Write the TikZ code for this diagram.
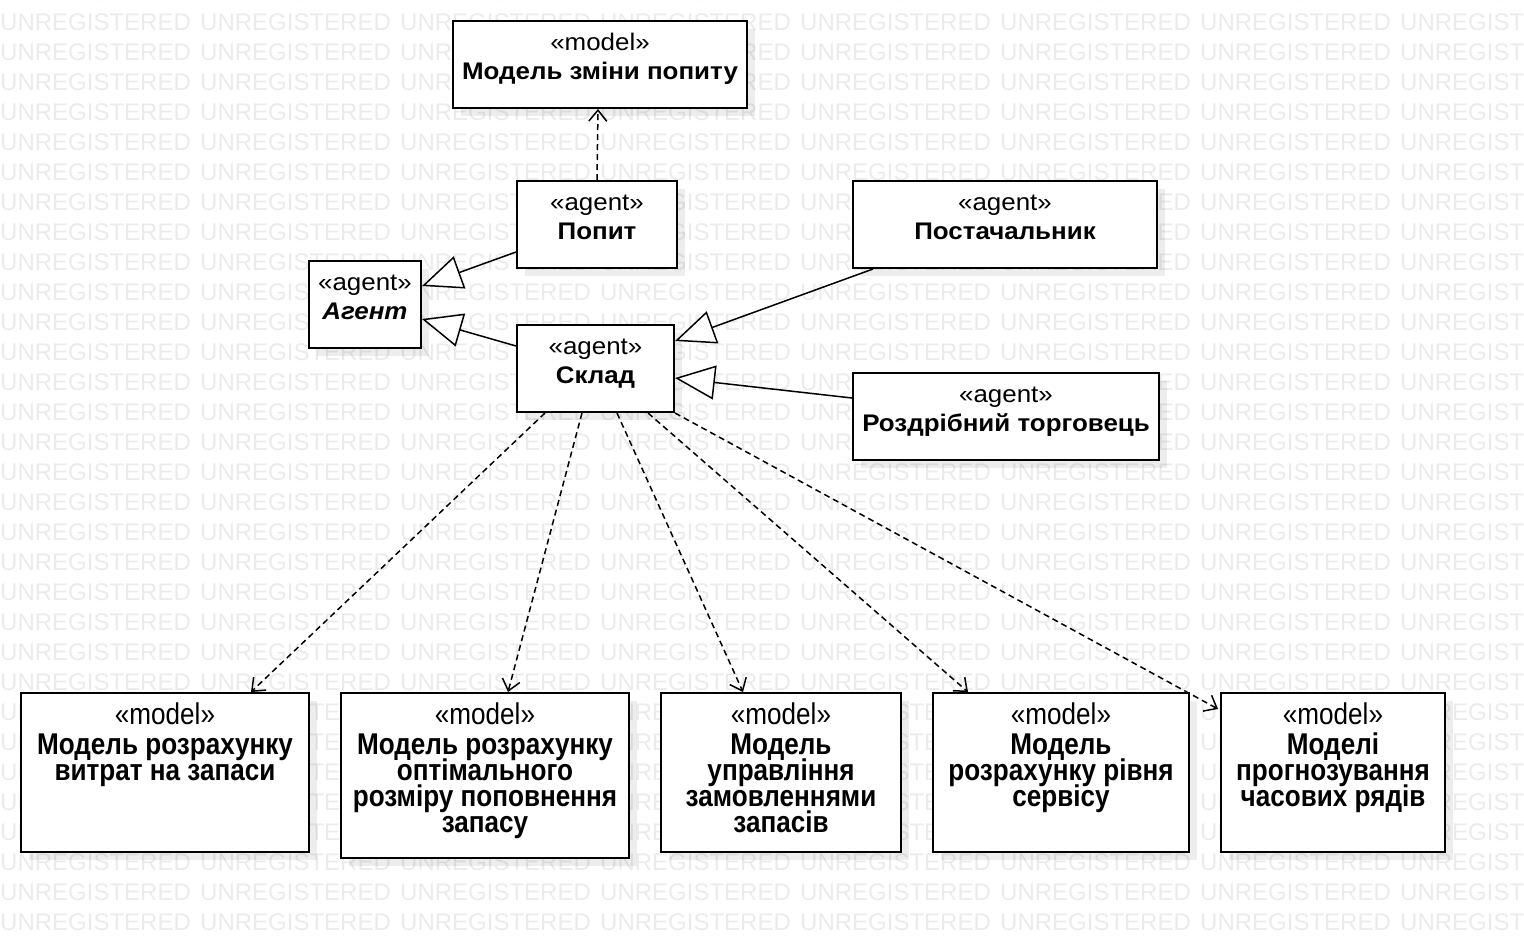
\documentclass[tikz,border=0pt]{standalone}
\usepackage{fontspec}
\setmainfont{Liberation Sans}
\newfontfamily\widefont[FakeStretch=1.08]{Liberation Sans}
\newfontfamily\tallfont[FakeStretch=0.87]{Liberation Sans}
\usetikzlibrary{arrows.meta,shadows}
\definecolor{wm}{HTML}{EBEBEB}
\tikzset{
  box/.style={draw, line width=2pt, fill=white, inner sep=0pt, anchor=north west,
    general shadow={shadow xshift=8pt, shadow yshift=-8pt, fill=black, opacity=0.07}},
  lbl/.style={inner sep=0pt, anchor=center, text height=17.3pt, text depth=0pt,
    font=\widefont\fontsize{24}{30}\selectfont},
  nlbl/.style={inner sep=0pt, anchor=center, text height=21.6pt, text depth=0pt,
    font=\tallfont\fontsize{30}{26}\selectfont},
  gen/.style={line width=1.5pt, -{Triangle[open, length=40pt, width=34pt, fill=white, line width=1.5pt]}},
  dep/.style={line width=1.5pt, dash pattern=on 6pt off 4pt, -{Straight Barb[length=11pt, width=18pt, line width=1.5pt]}},
  wmtext/.style={inner sep=0pt, anchor=west, text=wm, font=\fontsize{24}{24}\selectfont}
}
\begin{document}
\begin{tikzpicture}[x=1pt, y=-1pt]
\useasboundingbox (0,0) rectangle (1524,938);
\begin{scope}
\clip (0,0) rectangle (1524,938);
\foreach \r in {-1,...,30} {
  \foreach \c in {0,...,7} {
    \node[wmtext] at (\c*200, 22+\r*30) {UNREGISTERED};
  }
}
\end{scope}

% boxes
\node[box, minimum width=294pt, minimum height=87pt] (demandmodel) at (452,20) {};
\node[box, minimum width=160pt, minimum height=87pt] (popyt) at (516,180) {};
\node[box, minimum width=304pt, minimum height=87pt] (supplier) at (852,180) {};
\node[box, minimum width=112pt, minimum height=87pt] (agent) at (308,260) {};
\node[box, minimum width=157pt, minimum height=87pt] (sklad) at (516,324) {};
\node[box, minimum width=306pt, minimum height=87pt] (retailer) at (852,372) {};
\node[box, minimum width=288pt, minimum height=159pt] (m1) at (20,692) {};
\node[box, minimum width=288pt, minimum height=165pt] (m2) at (340,692) {};
\node[box, minimum width=240pt, minimum height=159pt] (m3) at (660,692) {};
\node[box, minimum width=256pt, minimum height=159pt] (m4) at (932,692) {};
\node[box, minimum width=224pt, minimum height=159pt] (m5) at (1220,692) {};

% labels (top boxes)
\node[lbl] at ([yshift=-22pt]demandmodel.north) {«model»};
\node[lbl] at ([yshift=-51pt]demandmodel.north) {\bfseries Модель зміни попиту};
\node[lbl] at ([yshift=-22pt]popyt.north) {«agent»};
\node[lbl] at ([yshift=-51pt]popyt.north) {\bfseries Попит};
\node[lbl] at ([yshift=-22pt]supplier.north) {«agent»};
\node[lbl] at ([yshift=-51pt]supplier.north) {\bfseries Постачальник};
\node[lbl] at ([yshift=-22pt]agent.north) {«agent»};
\node[lbl] at ([yshift=-51pt]agent.north) {\bfseries\itshape Агент};
\node[lbl] at ([yshift=-22pt]sklad.north) {«agent»};
\node[lbl] at ([yshift=-51pt]sklad.north) {\bfseries Склад};
\node[lbl] at ([yshift=-22pt]retailer.north) {«agent»};
\node[lbl] at ([yshift=-51pt]retailer.north) {\bfseries Роздрібний торговець};

% labels (model boxes)
\node[nlbl] at ([yshift=-22pt]m1.north) {«model»};
\node[nlbl] at ([yshift=-52pt]m1.north) {\bfseries Модель розрахунку};
\node[nlbl] at ([yshift=-78pt]m1.north) {\bfseries витрат на запаси};

\node[nlbl] at ([yshift=-22pt]m2.north) {«model»};
\node[nlbl] at ([yshift=-52pt]m2.north) {\bfseries Модель розрахунку};
\node[nlbl] at ([yshift=-78pt]m2.north) {\bfseries оптімального};
\node[nlbl] at ([yshift=-104pt]m2.north) {\bfseries розміру поповнення};
\node[nlbl] at ([yshift=-130pt]m2.north) {\bfseries запасу};

\node[nlbl] at ([yshift=-22pt]m3.north) {«model»};
\node[nlbl] at ([yshift=-52pt]m3.north) {\bfseries Модель};
\node[nlbl] at ([yshift=-78pt]m3.north) {\bfseries управління};
\node[nlbl] at ([yshift=-104pt]m3.north) {\bfseries замовленнями};
\node[nlbl] at ([yshift=-130pt]m3.north) {\bfseries запасів};

\node[nlbl] at ([yshift=-22pt]m4.north) {«model»};
\node[nlbl] at ([yshift=-52pt]m4.north) {\bfseries Модель};
\node[nlbl] at ([yshift=-78pt]m4.north) {\bfseries розрахунку рівня};
\node[nlbl] at ([yshift=-104pt]m4.north) {\bfseries сервісу};

\node[nlbl] at ([yshift=-22pt]m5.north) {«model»};
\node[nlbl] at ([yshift=-52pt]m5.north) {\bfseries Моделі};
\node[nlbl] at ([yshift=-78pt]m5.north) {\bfseries прогнозування};
\node[nlbl] at ([yshift=-104pt]m5.north) {\bfseries часових рядів};

% generalizations
\draw[gen] ([yshift=-27.5pt]popyt.west) -- ([yshift=18.5pt]agent.east);
\draw[gen] ([yshift=22.5pt]sklad.west) -- ([yshift=-14.5pt]agent.east);
\draw[gen] ([xshift=21pt]supplier.south west) -- ([yshift=27.5pt]sklad.east);
\draw[gen] ([yshift=18.5pt]retailer.west) -- ([yshift=-9.5pt]sklad.east);

% dependencies
\draw[dep] (popyt.north) -- ([xshift=-2pt]demandmodel.south);
\draw[dep] ([xshift=29pt]sklad.south west) -- ([xshift=86pt]m1.north);
\draw[dep] ([xshift=66pt]sklad.south west) -- ([xshift=23pt]m2.north);
\draw[dep] ([xshift=101pt]sklad.south west) -- ([xshift=-38pt]m3.north);
\draw[dep] ([xshift=132pt]sklad.south west) -- ([xshift=-93pt]m4.north);
\draw[dep] ([xshift=159pt]sklad.south west) -- ([xshift=-2pt,yshift=-17pt]m5.north west);
\end{tikzpicture}
\end{document}
